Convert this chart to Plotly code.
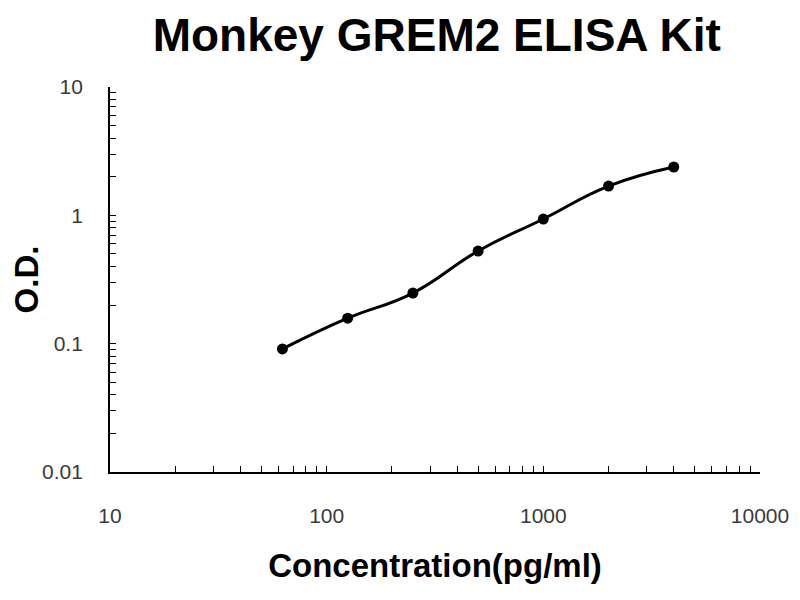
import plotly.graph_objects as go

# standard curve (pg/ml vs O.D.)
concentration = [62.5, 125, 250, 500, 1000, 2000, 4000]
od = [0.091, 0.158, 0.248, 0.527, 0.936, 1.69, 2.38]

x_decades = [10, 100, 1000, 10000]
x_labels = ["10", "100", "1000", "10000"]
y_decades = [0.01, 0.1, 1, 10]
y_labels = ["0.01", "0.1", "1", "10"]


def log_ticks(decades, labels):
    # every 1..9 multiple gets a tick, only the decades get a label
    vals, text = [], []
    for d, lab in zip(decades[:-1], labels[:-1]):
        for m in range(1, 10):
            vals.append(d * m)
            text.append(lab if m == 1 else "")
    vals.append(decades[-1])
    text.append(labels[-1])
    return vals, text


xt_vals, xt_text = log_ticks(x_decades, x_labels)
yt_vals, yt_text = log_ticks(y_decades, y_labels)

FONT = "Liberation Sans, Arial, sans-serif"

fig = go.Figure()
fig.add_trace(go.Scatter(
    x=concentration,
    y=od,
    mode="lines+markers",
    line=dict(color="black", width=3, shape="spline", smoothing=1.3),
    marker=dict(color="black", size=11),
    showlegend=False,
))

axis_font = dict(family=FONT, size=21, color="#3a3a3a")

fig.update_xaxes(
    type="log",
    range=[1, 4],
    tickvals=xt_vals,
    ticktext=xt_text,
    ticks="inside",
    ticklen=6,
    tickwidth=1.2,
    tickcolor="black",
    ticklabelstandoff=24,
    tickfont=axis_font,
    showline=True,
    linecolor="black",
    linewidth=1.8,
    showgrid=False,
    zeroline=False,
    automargin=False,
    title=dict(
        text="<b>Concentration(pg/ml)</b>",
        font=dict(family=FONT, size=33, color="black"),
        standoff=28,
    ),
)
fig.update_yaxes(
    type="log",
    range=[-2, 1],
    tickvals=yt_vals,
    ticktext=yt_text,
    ticks="inside",
    ticklen=6,
    tickwidth=1.2,
    tickcolor="black",
    ticklabelstandoff=21,
    tickfont=axis_font,
    showline=True,
    linecolor="black",
    linewidth=1.8,
    showgrid=False,
    zeroline=False,
    automargin=False,
    title=dict(
        text="<b>O.D.</b>",
        font=dict(family=FONT, size=33, color="black"),
        standoff=2,
    ),
)

fig.update_layout(
    title=dict(
        text="<b>Monkey GREM2 ELISA Kit</b>",
        font=dict(family=FONT, size=46, color="black"),
        x=0.536,
        xanchor="center",
        y=0.955,
        yanchor="middle",
    ),
    width=800,
    height=600,
    margin=dict(l=102, r=48, t=79, b=136),
    plot_bgcolor="white",
    paper_bgcolor="white",
)

fig.write_html("out.html")
